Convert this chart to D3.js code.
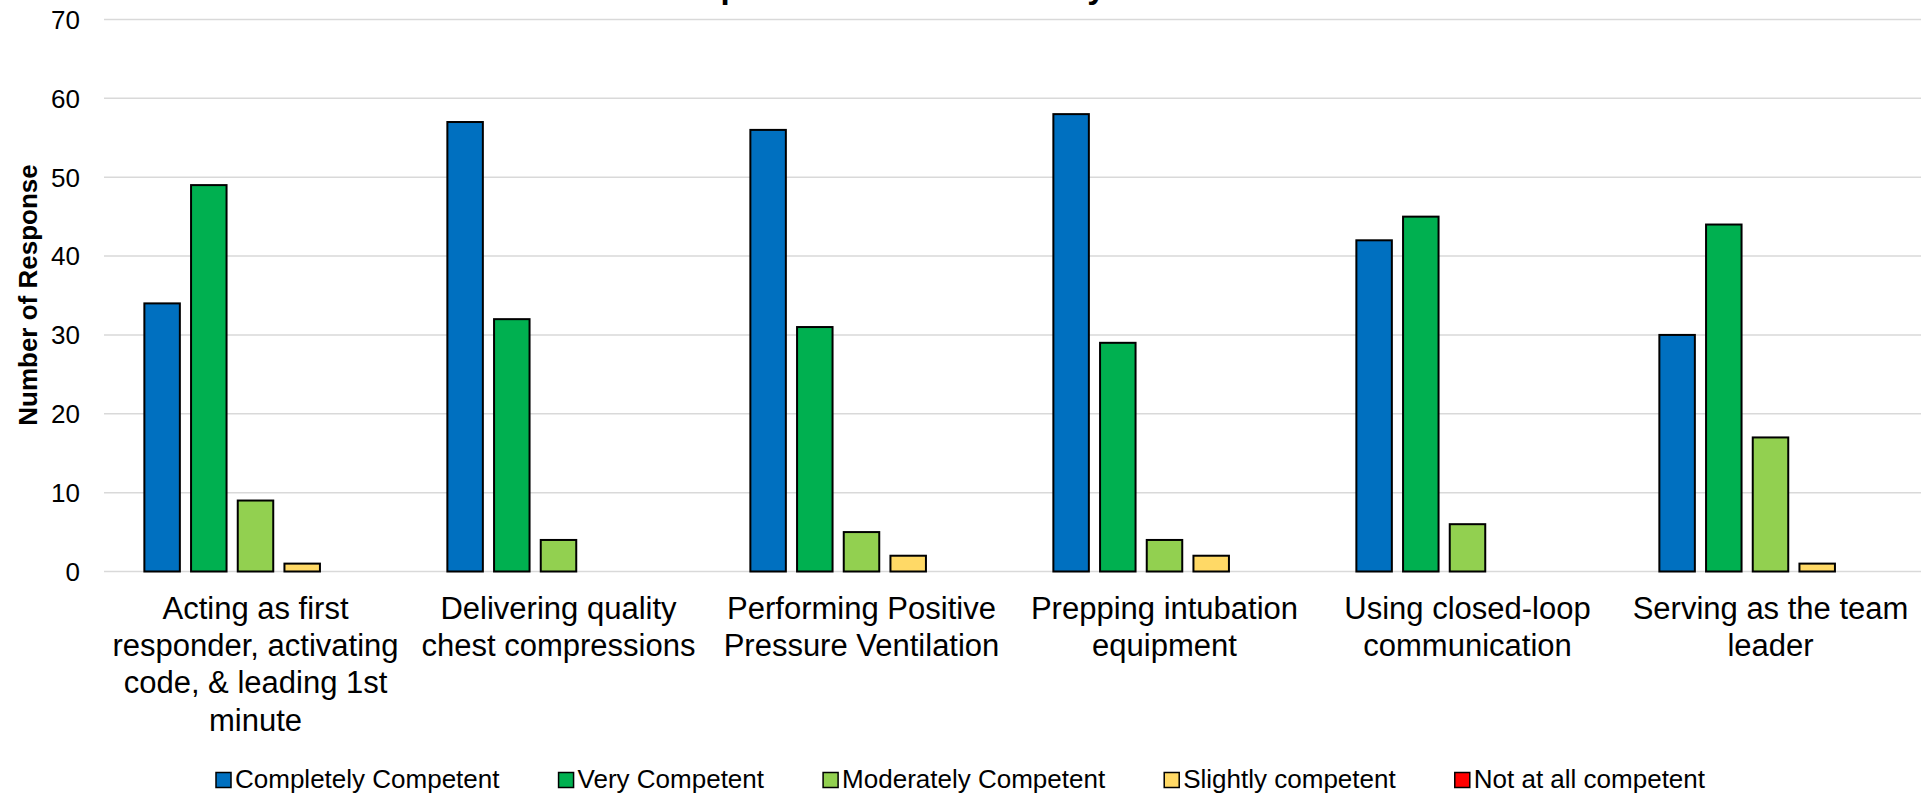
<!DOCTYPE html>
<html lang="en">
<head>
  <meta charset="UTF-8">
  <title>Competence by Skill</title>
  <script src="https://d3js.org/d3.v7.min.js"></script>
  <style>
    body { margin: 0; background: #fff; overflow: hidden; }
    svg { display: block; font-family: "Liberation Sans", Arial, sans-serif; }
  </style>
</head>
<body>
  <svg width="1921" height="795"></svg>
  <script>
  // Categories (each label already split into its wrapped lines)
  const categories = [
    ["Acting as first", "responder, activating", "code, & leading 1st", "minute"],
    ["Delivering quality", "chest compressions"],
    ["Performing Positive", "Pressure Ventilation"],
    ["Prepping intubation", "equipment"],
    ["Using closed-loop", "communication"],
    ["Serving as the team", "leader"]
  ];

  const seriesNames = ["Completely Competent", "Very Competent", "Moderately Competent", "Slightly competent", "Not at all competent"];
  const seriesColors = ["#0070C0", "#00B050", "#92D050", "#FFD966", "#FF0000"];

  // values per series, one per category
  const completely = [34, 57, 56, 58, 42, 30];
  const very       = [49, 32, 31, 29, 45, 44];
  const moderately = [9, 4, 5, 4, 6, 17];
  const slightly   = [1, 0, 2, 2, 0, 1];
  const notAtAll   = [0, 0, 0, 0, 0, 0];

  const yTicks = [0, 10, 20, 30, 40, 50, 60, 70];

  const seriesValues = [completely, very, moderately, slightly, notAtAll];

  const width = 1921, height = 795;
  const plot = { left: 104, right: 1922, top: 19.5, bottom: 571.5 };

  const svg = d3.select("svg");

  const catIds = categories.map((c, i) => i);
  const x0 = d3.scaleBand().domain(catIds).range([plot.left, plot.right]);
  const x1 = d3.scaleBand().domain(seriesNames).range([0, x0.bandwidth()])
               .paddingInner(0.197).paddingOuter(0.843);
  const y = d3.scaleLinear().domain([0, 70]).range([plot.bottom, plot.top]);

  // title (mostly above the visible area in the reference)
  svg.append("text")
     .attr("x", 915)
     .attr("y", -2)
     .attr("text-anchor", "middle")
     .style("font-size", "33px")
     .style("font-weight", "bold")
     .attr("fill", "#000")
     .text("Competence Levels Rated by Skill");

  // gridlines
  svg.append("g")
     .selectAll("line")
     .data(yTicks)
     .join("line")
     .attr("x1", plot.left)
     .attr("x2", width)
     .attr("y1", d => y(d))
     .attr("y2", d => y(d))
     .attr("stroke", "#d9d9d9")
     .attr("stroke-width", 1.5);

  // y tick labels
  svg.append("g")
     .selectAll("text")
     .data(yTicks)
     .join("text")
     .attr("x", 80)
     .attr("y", d => y(d))
     .attr("dy", "0.36em")
     .attr("text-anchor", "end")
     .style("font-size", "26px")
     .attr("fill", "#000")
     .text(d => d);

  // y axis title
  svg.append("text")
     .attr("transform", "translate(37,295) rotate(-90)")
     .attr("text-anchor", "middle")
     .style("font-size", "26px")
     .style("font-weight", "bold")
     .attr("fill", "#000")
     .text("Number of Response");

  // bars (zero values are not drawn)
  const barData = [];
  catIds.forEach(ci => {
    seriesNames.forEach((s, si) => {
      const v = seriesValues[si][ci];
      if (v > 0) barData.push({ ci, s, si, v });
    });
  });

  svg.append("g")
     .selectAll("rect")
     .data(barData)
     .join("rect")
     .attr("x", d => x0(d.ci) + x1(d.s) + 1)
     .attr("width", x1.bandwidth() - 2)
     .attr("y", d => y(d.v))
     .attr("height", d => y(0) - y(d.v))
     .attr("fill", d => seriesColors[d.si])
     .attr("stroke", "#000")
     .attr("stroke-width", 2);

  // category labels
  const catLabels = svg.append("g")
     .selectAll("text")
     .data(categories)
     .join("text")
     .attr("text-anchor", "middle")
     .style("font-size", "31px")
     .attr("fill", "#000")
     .attr("transform", (d, i) => `translate(${x0(i) + x0.bandwidth() / 2},619)`);

  catLabels.selectAll("tspan")
     .data(d => d)
     .join("tspan")
     .attr("x", 0)
     .attr("y", (d, i) => i * 37.2)
     .text(d => d);

  // legend: items spaced evenly between left and right ends
  const legendLeft = 216, legendRight = 1705, swatch = 15, swGap = 4;
  const legend = svg.append("g");
  const items = legend.selectAll("g")
     .data(seriesNames)
     .join("g");
  items.append("rect")
     .attr("width", swatch)
     .attr("height", swatch)
     .attr("y", 772.5)
     .attr("fill", (d, i) => seriesColors[i])
     .attr("stroke", "#000")
     .attr("stroke-width", 1.5);
  items.append("text")
     .attr("x", swatch + swGap)
     .attr("y", 787.5)
     .style("font-size", "26px")
     .attr("fill", "#000")
     .text(d => d);

  const widths = [];
  items.each(function() {
    widths.push(swatch + swGap + d3.select(this).select("text").node().getComputedTextLength());
  });
  const gap = (legendRight - legendLeft - d3.sum(widths)) / (widths.length - 1);
  let cx = legendLeft;
  items.attr("transform", (d, i) => {
    const t = `translate(${cx},0)`;
    cx += widths[i] + gap;
    return t;
  });
  </script>
</body>
</html>
